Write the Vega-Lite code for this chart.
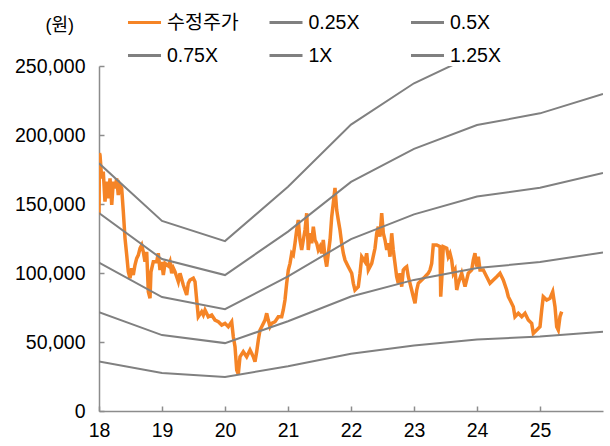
{
  "$schema": "https://vega.github.io/schema/vega-lite/v6.json",
  "width": 504,
  "height": 345,
  "autosize": "none",
  "padding": {"left": 99, "top": 66, "right": 7, "bottom": 35},
  "config": {
    "view": {"stroke": null},
    "font": "Liberation Sans, Noto Sans CJK KR, sans-serif",
    "axis": {"grid": false, "domainColor": "#8c8c8c", "tickColor": "#8c8c8c", "domainWidth": 1.5, "tickWidth": 1.5, "labelColor": "#000", "labelFontSize": 19.5, "labelFont": "Liberation Sans"}
  },
  "datasets": {
    "price": [
      {"series":"수정주가","t":18.000,"v":142000},{"series":"수정주가","t":18.008,"v":186900},{"series":"수정주가","t":18.016,"v":185500},{"series":"수정주가","t":18.043,"v":168600},{"series":"수정주가","t":18.068,"v":173400},{"series":"수정주가","t":18.095,"v":151700},{"series":"수정주가","t":18.122,"v":166200},{"series":"수정주가","t":18.148,"v":154100},{"series":"수정주가","t":18.175,"v":168600},{"series":"수정주가","t":18.202,"v":149300},{"series":"수정주가","t":18.227,"v":166200},{"series":"수정주가","t":18.254,"v":161400},{"series":"수정주가","t":18.281,"v":168600},{"series":"수정주가","t":18.306,"v":156500},{"series":"수정주가","t":18.333,"v":163800},{"series":"수정주가","t":18.360,"v":161400},{"series":"수정주가","t":18.386,"v":144400},{"series":"수정주가","t":18.413,"v":125100},{"series":"수정주가","t":18.440,"v":113000},{"series":"수정주가","t":18.465,"v":100900},{"series":"수정주가","t":18.492,"v":96200},{"series":"수정주가","t":18.519,"v":103400},{"series":"수정주가","t":18.544,"v":98500},{"series":"수정주가","t":18.571,"v":105800},{"series":"수정주가","t":18.598,"v":110600},{"series":"수정주가","t":18.624,"v":113000},{"series":"수정주가","t":18.651,"v":117900},{"series":"수정주가","t":18.678,"v":120300},{"series":"수정주가","t":18.703,"v":115400},{"series":"수정주가","t":18.730,"v":108200},{"series":"수정주가","t":18.757,"v":115400},{"series":"수정주가","t":18.783,"v":86400},{"series":"수정주가","t":18.810,"v":81700},{"series":"수정주가","t":18.825,"v":100900},{"series":"수정주가","t":18.862,"v":108200},{"series":"수정주가","t":18.916,"v":108200},{"series":"수정주가","t":18.941,"v":114300},{"series":"수정주가","t":18.968,"v":102200},{"series":"수정주가","t":18.995,"v":108000},{"series":"수정주가","t":19.021,"v":98500},{"series":"수정주가","t":19.048,"v":107000},{"series":"수정주가","t":19.100,"v":105100},{"series":"수정주가","t":19.127,"v":108200},{"series":"수정주가","t":19.154,"v":99800},{"series":"수정주가","t":19.179,"v":103600},{"series":"수정주가","t":19.206,"v":100900},{"series":"수정주가","t":19.233,"v":97300},{"series":"수정주가","t":19.259,"v":93700},{"series":"수정주가","t":19.286,"v":99800},{"series":"수정주가","t":19.338,"v":91300},{"series":"수정주가","t":19.365,"v":87700},{"series":"수정주가","t":19.392,"v":84100},{"series":"수정주가","t":19.417,"v":92500},{"series":"수정주가","t":19.444,"v":94900},{"series":"수정주가","t":19.497,"v":96200},{"series":"수정주가","t":19.524,"v":93700},{"series":"수정주가","t":19.551,"v":80400},{"series":"수정주가","t":19.576,"v":68300},{"series":"수정주가","t":19.630,"v":72000},{"series":"수정주가","t":19.656,"v":69600},{"series":"수정주가","t":19.683,"v":73200},{"series":"수정주가","t":19.735,"v":68300},{"series":"수정주가","t":19.789,"v":69600},{"series":"수정주가","t":19.841,"v":65900},{"series":"수정주가","t":19.894,"v":64700},{"series":"수정주가","t":19.948,"v":62300},{"series":"수정주가","t":20.000,"v":63500},{"series":"수정주가","t":20.052,"v":61100},{"series":"수정주가","t":20.106,"v":64700},{"series":"수정주가","t":20.132,"v":53800},{"series":"수정주가","t":20.159,"v":46600},{"series":"수정주가","t":20.186,"v":29700},{"series":"수정주가","t":20.211,"v":26800},{"series":"수정주가","t":20.238,"v":39300},{"series":"수정주가","t":20.290,"v":43000},{"series":"수정주가","t":20.344,"v":39300},{"series":"수정주가","t":20.397,"v":44200},{"series":"수정주가","t":20.449,"v":39300},{"series":"수정주가","t":20.476,"v":35700},{"series":"수정주가","t":20.503,"v":43000},{"series":"수정주가","t":20.529,"v":51400},{"series":"수정주가","t":20.556,"v":58700},{"series":"수정주가","t":20.583,"v":61100},{"series":"수정주가","t":20.635,"v":65900},{"series":"수정주가","t":20.662,"v":70800},{"series":"수정주가","t":20.687,"v":65900},{"series":"수정주가","t":20.714,"v":61100},{"series":"수정주가","t":20.741,"v":63500},{"series":"수정주가","t":20.794,"v":64700},{"series":"수정주가","t":20.846,"v":68300},{"series":"수정주가","t":20.900,"v":68300},{"series":"수정주가","t":20.925,"v":73200},{"series":"수정주가","t":20.952,"v":80400},{"series":"수정주가","t":20.979,"v":92500},{"series":"수정주가","t":21.005,"v":102200},{"series":"수정주가","t":21.032,"v":107000},{"series":"수정주가","t":21.059,"v":114300},{"series":"수정주가","t":21.084,"v":113000},{"series":"수정주가","t":21.111,"v":121500},{"series":"수정주가","t":21.138,"v":131200},{"series":"수정주가","t":21.163,"v":138400},{"series":"수정주가","t":21.190,"v":123900},{"series":"수정주가","t":21.217,"v":116700},{"series":"수정주가","t":21.243,"v":123900},{"series":"수정주가","t":21.270,"v":131200},{"series":"수정주가","t":21.297,"v":143300},{"series":"수정주가","t":21.322,"v":116700},{"series":"수정주가","t":21.349,"v":128800},{"series":"수정주가","t":21.376,"v":121500},{"series":"수정주가","t":21.402,"v":133500},{"series":"수정주가","t":21.429,"v":123900},{"series":"수정주가","t":21.456,"v":121500},{"series":"수정주가","t":21.481,"v":116700},{"series":"수정주가","t":21.508,"v":119100},{"series":"수정주가","t":21.535,"v":114300},{"series":"수정주가","t":21.560,"v":123900},{"series":"수정주가","t":21.587,"v":111800},{"series":"수정주가","t":21.614,"v":104600},{"series":"수정주가","t":21.640,"v":114300},{"series":"수정주가","t":21.667,"v":123900},{"series":"수정주가","t":21.694,"v":140800},{"series":"수정주가","t":21.719,"v":150500},{"series":"수정주가","t":21.746,"v":161600},{"series":"수정주가","t":21.773,"v":145600},{"series":"수정주가","t":21.798,"v":138400},{"series":"수정주가","t":21.825,"v":131200},{"series":"수정주가","t":21.852,"v":121500},{"series":"수정주가","t":21.878,"v":114300},{"series":"수정주가","t":21.905,"v":109400},{"series":"수정주가","t":21.957,"v":104600},{"series":"수정주가","t":22.011,"v":99800},{"series":"수정주가","t":22.037,"v":92500},{"series":"수정주가","t":22.063,"v":87700},{"series":"수정주가","t":22.116,"v":90100},{"series":"수정주가","t":22.143,"v":99800},{"series":"수정주가","t":22.170,"v":111800},{"series":"수정주가","t":22.222,"v":108200},{"series":"수정주가","t":22.249,"v":114300},{"series":"수정주가","t":22.275,"v":102200},{"series":"수정주가","t":22.329,"v":107000},{"series":"수정주가","t":22.381,"v":117900},{"series":"수정주가","t":22.408,"v":128800},{"series":"수정주가","t":22.433,"v":133500},{"series":"수정주가","t":22.460,"v":126300},{"series":"수정주가","t":22.487,"v":143300},{"series":"수정주가","t":22.513,"v":128800},{"series":"수정주가","t":22.540,"v":123900},{"series":"수정주가","t":22.567,"v":116700},{"series":"수정주가","t":22.592,"v":121500},{"series":"수정주가","t":22.619,"v":111800},{"series":"수정주가","t":22.646,"v":128800},{"series":"수정주가","t":22.671,"v":116700},{"series":"수정주가","t":22.698,"v":107000},{"series":"수정주가","t":22.725,"v":97300},{"series":"수정주가","t":22.751,"v":92500},{"series":"수정주가","t":22.778,"v":99800},{"series":"수정주가","t":22.805,"v":90100},{"series":"수정주가","t":22.830,"v":102200},{"series":"수정주가","t":22.857,"v":103600},{"series":"수정주가","t":22.884,"v":104600},{"series":"수정주가","t":22.910,"v":97300},{"series":"수정주가","t":22.937,"v":92500},{"series":"수정주가","t":22.963,"v":87700},{"series":"수정주가","t":22.989,"v":82800},{"series":"수정주가","t":23.016,"v":78000},{"series":"수정주가","t":23.043,"v":87700},{"series":"수정주가","t":23.068,"v":92500},{"series":"수정주가","t":23.122,"v":94900},{"series":"수정주가","t":23.175,"v":97300},{"series":"수정주가","t":23.227,"v":99800},{"series":"수정주가","t":23.254,"v":102200},{"series":"수정주가","t":23.281,"v":107000},{"series":"수정주가","t":23.306,"v":120300},{"series":"수정주가","t":23.360,"v":120300},{"series":"수정주가","t":23.413,"v":119100},{"series":"수정주가","t":23.424,"v":82800},{"series":"수정주가","t":23.440,"v":94900},{"series":"수정주가","t":23.465,"v":119100},{"series":"수정주가","t":23.519,"v":117900},{"series":"수정주가","t":23.544,"v":111800},{"series":"수정주가","t":23.571,"v":114300},{"series":"수정주가","t":23.598,"v":109400},{"series":"수정주가","t":23.624,"v":99800},{"series":"수정주가","t":23.651,"v":102200},{"series":"수정주가","t":23.678,"v":87700},{"series":"수정주가","t":23.703,"v":92500},{"series":"수정주가","t":23.757,"v":99800},{"series":"수정주가","t":23.810,"v":90100},{"series":"수정주가","t":23.862,"v":99800},{"series":"수정주가","t":23.916,"v":102200},{"series":"수정주가","t":23.941,"v":109400},{"series":"수정주가","t":23.968,"v":114300},{"series":"수정주가","t":23.995,"v":104600},{"series":"수정주가","t":24.021,"v":111800},{"series":"수정주가","t":24.048,"v":102200},{"series":"수정주가","t":24.100,"v":102200},{"series":"수정주가","t":24.154,"v":97300},{"series":"수정주가","t":24.206,"v":92500},{"series":"수정주가","t":24.259,"v":94900},{"series":"수정주가","t":24.313,"v":97300},{"series":"수정주가","t":24.365,"v":99800},{"series":"수정주가","t":24.417,"v":94900},{"series":"수정주가","t":24.471,"v":87700},{"series":"수정주가","t":24.497,"v":82800},{"series":"수정주가","t":24.524,"v":80400},{"series":"수정주가","t":24.576,"v":75600},{"series":"수정주가","t":24.603,"v":68300},{"series":"수정주가","t":24.656,"v":70800},{"series":"수정주가","t":24.710,"v":68300},{"series":"수정주가","t":24.762,"v":70800},{"series":"수정주가","t":24.814,"v":65900},{"series":"수정주가","t":24.868,"v":63500},{"series":"수정주가","t":24.894,"v":56300},{"series":"수정주가","t":24.948,"v":58700},{"series":"수정주가","t":25.000,"v":61100},{"series":"수정주가","t":25.027,"v":73200},{"series":"수정주가","t":25.052,"v":82800},{"series":"수정주가","t":25.106,"v":80400},{"series":"수정주가","t":25.159,"v":81700},{"series":"수정주가","t":25.202,"v":86400},{"series":"수정주가","t":25.238,"v":75600},{"series":"수정주가","t":25.265,"v":61100},{"series":"수정주가","t":25.290,"v":58700},{"series":"수정주가","t":25.317,"v":68300},{"series":"수정주가","t":25.344,"v":72000}
    ],
    "bands": [
      {"series":"0.25X","t":18,"v":35800},{"series":"0.25X","t":19,"v":27500},{"series":"0.25X","t":20,"v":24600},{"series":"0.25X","t":21,"v":32500},{"series":"0.25X","t":22,"v":41500},{"series":"0.25X","t":23,"v":47500},{"series":"0.25X","t":24,"v":51800},{"series":"0.25X","t":25,"v":53900},{"series":"0.25X","t":26,"v":57500},
      {"series":"0.5X","t":18,"v":71600},{"series":"0.5X","t":19,"v":55000},{"series":"0.5X","t":20,"v":49200},{"series":"0.5X","t":21,"v":65000},{"series":"0.5X","t":22,"v":83000},{"series":"0.5X","t":23,"v":95000},{"series":"0.5X","t":24,"v":103600},{"series":"0.5X","t":25,"v":107900},{"series":"0.5X","t":26,"v":114900},
      {"series":"0.75X","t":18,"v":107500},{"series":"0.75X","t":19,"v":82600},{"series":"0.75X","t":20,"v":73800},{"series":"0.75X","t":21,"v":97500},{"series":"0.75X","t":22,"v":124500},{"series":"0.75X","t":23,"v":142500},{"series":"0.75X","t":24,"v":155400},{"series":"0.75X","t":25,"v":161800},{"series":"0.75X","t":26,"v":172400},
      {"series":"1X","t":18,"v":143400},{"series":"1X","t":19,"v":110100},{"series":"1X","t":20,"v":98500},{"series":"1X","t":21,"v":130000},{"series":"1X","t":22,"v":166000},{"series":"1X","t":23,"v":190000},{"series":"1X","t":24,"v":207200},{"series":"1X","t":25,"v":215700},{"series":"1X","t":26,"v":229800},
      {"series":"1.25X","t":18,"v":179500},{"series":"1.25X","t":19,"v":137700},{"series":"1.25X","t":20,"v":123100},{"series":"1.25X","t":21,"v":162500},{"series":"1.25X","t":22,"v":207500},{"series":"1.25X","t":23,"v":237500},{"series":"1.25X","t":24,"v":259000},{"series":"1.25X","t":25,"v":269600},{"series":"1.25X","t":26,"v":287300}
    ]
  },
  "layer": [
    {
      "data": {"name": "price"},
      "mark": {"type": "line", "strokeWidth": 3.5, "clip": true},
      "encoding": {
        "x": {"field": "t", "type": "quantitative", "scale": {"domain": [18, 26], "nice": false, "zero": false},
          "axis": {"title": null, "values": [18,19,20,21,22,23,24,25], "format": "d", "tickSize": -5, "labelPadding": 15, "labelFlush": false}},
        "y": {"field": "v", "type": "quantitative", "scale": {"domain": [0, 250000], "nice": false},
          "axis": {"title": "(원)", "titleAngle": 0, "titleAlign": "left", "titleBaseline": "middle", "titleX": -54, "titleY": -41, "titleFontSize": 18, "titleFontWeight": "normal", "titleFont": "Liberation Sans, Noto Sans CJK KR",
            "values": [0,50000,100000,150000,200000,250000], "format": ",d", "tickSize": -5, "labelPadding": 19}},
        "color": {"field": "series", "type": "nominal",
          "scale": {"domain": ["수정주가","0.25X","0.5X","0.75X","1X","1.25X"], "range": ["#F58426","#808080","#808080","#808080","#808080","#808080"]},
          "legend": {"title": null, "orient": "none", "direction": "horizontal", "legendX": 27, "legendY": -62, "columns": 3, "gridAlign": "all", "columnPadding": 23.5, "rowPadding": 5,
            "symbolType": "stroke", "symbolSize": 1090, "symbolStrokeWidth": 3, "labelFontSize": 19.5, "labelOffset": 4, "labelFont": "Liberation Sans, Noto Sans CJK KR", "labelColor": "#000"}}
      }
    },
    {
      "data": {"name": "bands"},
      "mark": {"type": "line", "strokeWidth": 2, "clip": true},
      "encoding": {
        "x": {"field": "t", "type": "quantitative"},
        "y": {"field": "v", "type": "quantitative"},
        "color": {"field": "series", "type": "nominal"}
      }
    }
  ]
}
